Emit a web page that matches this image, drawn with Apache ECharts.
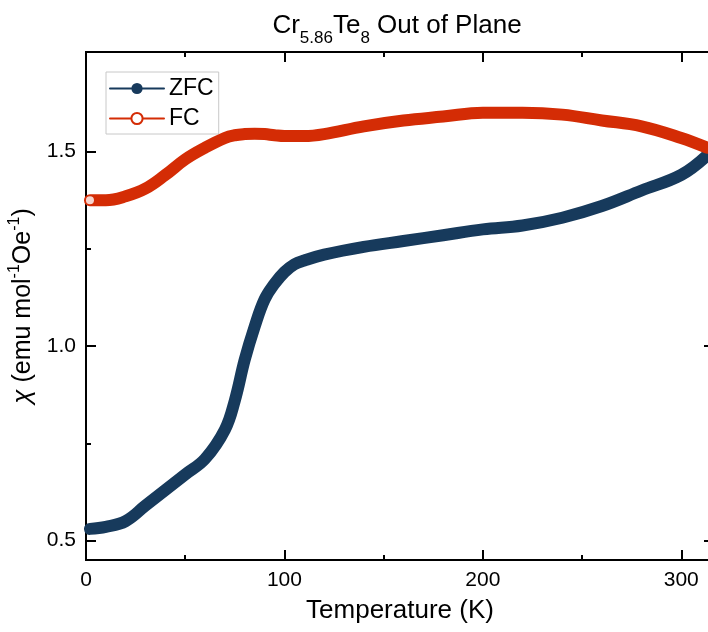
<!DOCTYPE html>
<html>
<head>
<meta charset="utf-8">
<script src="https://cdn.jsdelivr.net/npm/echarts@6/dist/echarts.min.js"></script>
<style>html,body{margin:0;padding:0;background:#fff}#c{width:708px;height:632px}</style>
</head>
<body>
<div id="c"></div>
<script>
// Temperature (K)
const temps = [2, 10, 20, 30, 40, 50, 60, 70, 75, 80, 85, 90, 95, 100, 105, 110, 120, 140, 160, 180, 200, 220, 240, 260, 280, 300, 313];
// ZFC susceptibility
const zfc = [0.53, 0.535, 0.55, 0.59, 0.63, 0.67, 0.71, 0.785, 0.86, 0.965, 1.05, 1.12, 1.16, 1.19, 1.21, 1.22, 1.235, 1.255, 1.27, 1.285, 1.30, 1.31, 1.33, 1.36, 1.40, 1.44, 1.49];
// FC susceptibility
const fc = [1.375, 1.375, 1.385, 1.405, 1.44, 1.48, 1.51, 1.535, 1.542, 1.545, 1.546, 1.545, 1.542, 1.54, 1.54, 1.54, 1.545, 1.565, 1.58, 1.59, 1.60, 1.60, 1.595, 1.58, 1.565, 1.535, 1.51];
const xTicks = [0, 100, 200, 300];
const xMinor = [50, 150, 250];
const yTicks = [0.5, 1.0, 1.5];
const yMinor = [0.75, 1.25];
const seriesNames = ['ZFC', 'FC'];

const FONT = 'Liberation Sans, Arial, sans-serif';
const X_MIN = 0, X_MAX = 316.5, Y_MIN = 0.45, Y_MAX = 1.756;

function xAx(pos, ticks, len, labels) {
  return {
    type: 'value', position: pos, min: X_MIN, max: X_MAX,
    axisLine: {show: true, onZero: false, lineStyle: {color: '#000', width: 2}},
    axisTick: {show: true, inside: true, length: len, customValues: ticks, lineStyle: {color: '#000', width: 2}},
    axisLabel: labels ? {show: true, customValues: ticks, fontSize: 21, color: '#000', fontFamily: FONT, margin: 10} : {show: false},
    splitLine: {show: false}
  };
}
function yAx(pos, ticks, len, labels) {
  return {
    type: 'value', position: pos, min: Y_MIN, max: Y_MAX,
    axisLine: {show: true, onZero: false, lineStyle: {color: '#000', width: 2}},
    axisTick: {show: true, inside: true, length: len, customValues: ticks, lineStyle: {color: '#000', width: 2}},
    axisLabel: labels ? {show: true, customValues: ticks, fontSize: 21, color: '#000', fontFamily: FONT, margin: 10,
      formatter: v => Number(v).toFixed(1)} : {show: false},
    splitLine: {show: false}
  };
}

const xAxes = [xAx('bottom', xTicks, 10, true), xAx('bottom', xMinor, 5, false), xAx('top', xTicks, 10, false), xAx('top', xMinor, 5, false)];
xAxes[0].name = 'Temperature (K)';
xAxes[0].nameLocation = 'middle';
xAxes[0].nameGap = 38;
xAxes[0].nameTextStyle = {fontSize: 26, color: '#000', fontFamily: FONT};

const yAxes = [yAx('left', yTicks, 10, true), yAx('left', yMinor, 5, false), yAx('right', yTicks, 10, false), yAx('right', yMinor, 5, false)];
yAxes[0].name = '{i|χ}{n| (emu mol}{s|-1}{n|Oe}{s|-1}{n|)}';
yAxes[0].nameLocation = 'middle';
yAxes[0].nameGap = 43;
yAxes[0].nameTextStyle = {
  color: '#000', fontFamily: FONT,
  rich: {
    i: {fontSize: 26, fontStyle: 'italic', fontFamily: FONT, color: '#000', lineHeight: 29, verticalAlign: 'bottom'},
    n: {fontSize: 25, fontFamily: FONT, color: '#000', lineHeight: 29, verticalAlign: 'bottom'},
    s: {fontSize: 16, fontFamily: FONT, color: '#000', lineHeight: 16, verticalAlign: 'top'}
  }
};

function pairs(ys) { return temps.map((t, i) => [t, ys[i]]); }

const chart = echarts.init(document.getElementById('c'), null, {renderer: 'canvas'});
chart.setOption({
  backgroundColor: '#fff',
  animation: false,
  grid: {left: 86, top: 52, right: -6, bottom: 72, containLabel: false, outerBoundsMode: 'none'},
  xAxis: xAxes,
  yAxis: yAxes,
  legend: {
    orient: 'vertical', left: 106, top: 72,
    data: seriesNames,
    borderColor: '#c8c8c8', borderWidth: 1,
    padding: [5, 5, 4, 3],
    itemWidth: 54, itemHeight: 14, itemGap: 7,
    lineStyle: {width: 2},
    textStyle: {fontSize: 23, color: '#000', fontFamily: FONT, lineHeight: 23}
  },
  graphic: [{
    type: 'text', x: 397, y: 30,
    style: {
      text: '{n|Cr}{s|5.86}{n|Te}{s|8}{n| Out of Plane}',
      align: 'center', verticalAlign: 'middle',
      rich: {
        n: {fontSize: 26, fontFamily: FONT, fill: '#000', lineHeight: 34, verticalAlign: 'top'},
        s: {fontSize: 17, fontFamily: FONT, fill: '#000', lineHeight: 17, verticalAlign: 'bottom'}
      }
    }
  }],
  series: [
    {
      name: seriesNames[0], type: 'line', data: pairs(zfc), smooth: 0.4,
      symbol: 'circle', showSymbol: false, color: '#173a5c',
      lineStyle: {width: 12, cap: 'round', join: 'round', color: '#173a5c'},
      itemStyle: {color: '#173a5c'}, z: 3
    },
    {
      name: seriesNames[1], type: 'line', data: pairs(fc), smooth: 0.4,
      symbol: 'emptyCircle', showSymbol: false, color: '#d42c05',
      lineStyle: {width: 12, cap: 'round', join: 'round', color: '#d42c05'},
      itemStyle: {color: '#d42c05'}, z: 4
    },
    {
      name: 'FCstart', type: 'scatter', data: [[temps[0], fc[0]]],
      symbol: 'circle', symbolSize: 8, itemStyle: {color: '#fff'}, z: 5, silent: true
    }
  ]
});
</script>
</body>
</html>
